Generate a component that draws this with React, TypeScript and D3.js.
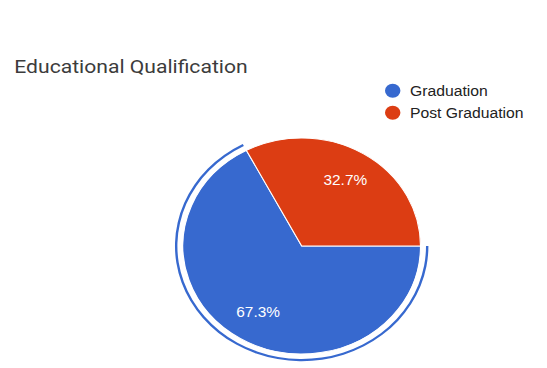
import React from "react";
import * as d3 from "d3";

const categories: string[] = ["Graduation", "Post Graduation"];
const values: number[] = [67.3, 32.7];
const colors: string[] = ["#3769cf", "#dc3d13"];
const title = "Educational Qualification";

const W = 547;
const H = 368;
const SX = 1.1;

export default function App() {
  const cx = 301.7 / SX;
  const cy = 246;
  const r = 108;
  const pie = d3
    .pie<number>()
    .sort(null)
    .startAngle(Math.PI / 2)
    .endAngle(Math.PI / 2 + 2 * Math.PI);
  const arcs = pie(values);
  const arc = d3.arc<d3.PieArcDatum<number>>().innerRadius(0).outerRadius(r);
  const labelArc = d3.arc<d3.PieArcDatum<number>>().innerRadius(r * 0.71).outerRadius(r * 0.71);
  const ringArc = d3.arc<d3.PieArcDatum<number>>().innerRadius(r + 5).outerRadius(r + 7.2);
  const total = d3.sum(values);

  return (
    <svg
      width={W}
      height={H}
      style={{ position: "absolute", left: 0, top: 0, background: "#fff" }}
    >
      <g transform={`scale(${SX},1)`}>
        <text x={13} y={73} fontFamily="Roboto, 'Open Sans', sans-serif" fontSize={19.2} fill="#3c3c3c">
          {title}
        </text>
        {categories.map((c, i) => (
          <g key={c}>
            <circle cx={392.7 / SX} cy={90.7 + i * 22} r={7} fill={colors[i]} />
            <text
              x={410 / SX}
              y={90.7 + i * 22}
              dy="0.35em"
              fontFamily="'Liberation Sans', Arial, sans-serif"
              fontSize={14.3}
              fill="#222"
            >
              {c}
            </text>
          </g>
        ))}
        <g transform={`translate(${cx},${cy})`}>
          {arcs.map((a, i) => (
            <path key={i} d={arc(a) || ""} fill={colors[i]} stroke="#fff" strokeWidth={1} />
          ))}
          <path d={ringArc(arcs[0]) || ""} fill={colors[0]} />
          {arcs.map((a, i) => {
            const [lx, ly] = labelArc.centroid(a);
            return (
              <text
                key={i}
                x={lx}
                y={ly}
                dy="0.35em"
                textAnchor="middle"
                fontFamily="'Liberation Sans', Arial, sans-serif"
                fontSize={14}
                fill="#fff"
              >
                {`${((values[i] / total) * 100).toFixed(1)}%`}
              </text>
            );
          })}
        </g>
      </g>
    </svg>
  );
}
